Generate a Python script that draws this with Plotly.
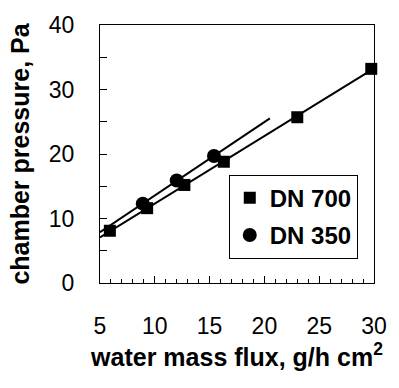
import numpy as np
import plotly.graph_objects as go

# ---- data ----
dn700_flux = [5.9, 9.3, 12.7, 16.3, 23.0, 29.75]
dn700_pressure = [8.1, 11.6, 15.2, 18.8, 25.7, 33.2]
dn350_flux = [8.9, 12.0, 15.4]
dn350_pressure = [12.3, 15.9, 19.7]
fit_range_700 = [5.0, 29.75]
fit_range_350 = [5.0, 20.5]
x_ticks = [5, 10, 15, 20, 25, 30]
y_ticks = [0, 10, 20, 30, 40]

FONT = "Liberation Sans, Arial, sans-serif"

def fit_line(x, y, rng):
    k, b = np.polyfit(x, y, 1)
    xs = np.array(rng)
    return xs, k * xs + b

fig = go.Figure()
fx, fy = fit_line(dn700_flux, dn700_pressure, fit_range_700)
fig.add_trace(go.Scatter(x=fx, y=fy, mode="lines", line=dict(color="black", width=2),
                         showlegend=False, hoverinfo="skip"))
fx, fy = fit_line(dn350_flux, dn350_pressure, fit_range_350)
fig.add_trace(go.Scatter(x=fx, y=fy, mode="lines", line=dict(color="black", width=2),
                         showlegend=False, hoverinfo="skip"))
fig.add_trace(go.Scatter(x=dn700_flux, y=dn700_pressure, mode="markers", name="DN 700",
                         legendgroup="a",
                         marker=dict(symbol="square", size=12, color="black"),
                         cliponaxis=False))
fig.add_trace(go.Scatter(x=dn350_flux, y=dn350_pressure, mode="markers", name="DN 350",
                         legendgroup="b",
                         marker=dict(symbol="circle", size=14, color="black"),
                         cliponaxis=False))

axis_common = dict(showgrid=False, zeroline=False, showline=True, linecolor="black",
                   linewidth=1, mirror=True, ticks="inside", tickcolor="black",
                   tickfont=dict(family=FONT, size=23, color="black"))

fig.update_layout(
    width=399, height=388,
    margin=dict(l=100, r=15, t=24, b=105),
    paper_bgcolor="white", plot_bgcolor="white",
    xaxis=dict(range=[5, 30], tickvals=x_ticks, ticklen=7, tickwidth=1,
               minor=dict(dtick=1, tick0=5, ticks="inside", ticklen=4, tickcolor="black"),
               ticklabelstandoff=22,
               title=dict(text="water mass flux, g/h cm<sup>2</sup>",
                          font=dict(family=FONT, size=25, color="black", weight="bold"),
                          standoff=10),
               **axis_common),
    yaxis=dict(range=[0, 40], tickvals=y_ticks, ticklen=7, tickwidth=1,
               minor=dict(dtick=5, tick0=0, ticks="inside", ticklen=7, tickcolor="black"),
               ticklabelstandoff=20,
               title=dict(text="chamber pressure, Pa",
                          font=dict(family=FONT, size=25, color="black", weight="bold"),
                          standoff=12),
               **axis_common),
    legend=dict(x=0.47, y=0.42, xanchor="left", yanchor="top",
                bgcolor="white", bordercolor="black", borderwidth=1,
                tracegroupgap=3,
                font=dict(family=FONT, size=24, color="black", weight="bold")),
    showlegend=True,
)

fig.write_html("out.html")
